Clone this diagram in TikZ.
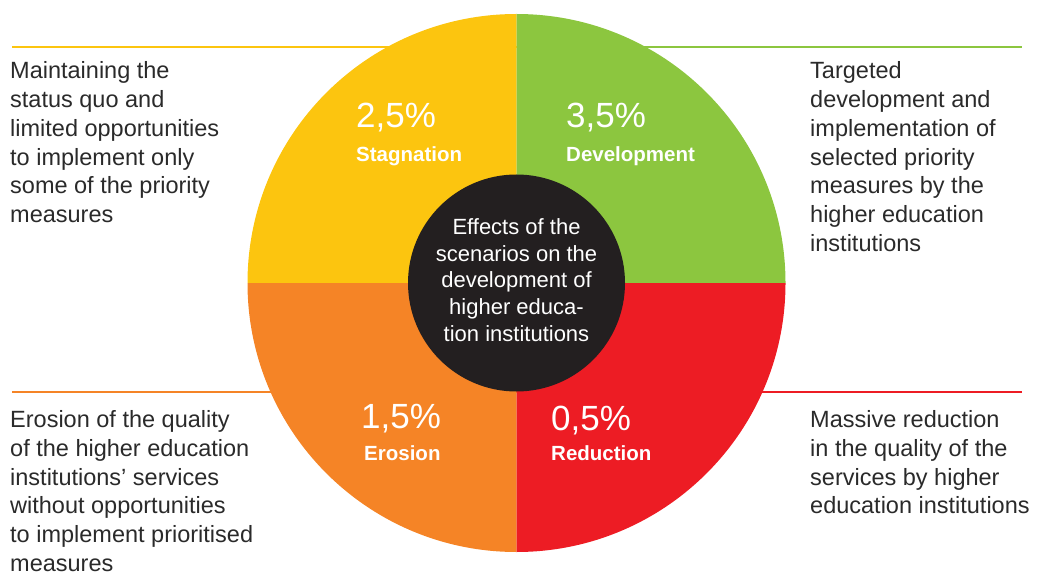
\documentclass[tikz,border=0pt]{standalone}
\usepackage{fontspec}
\setmainfont{Liberation Sans}
\usepackage{tikz}

\definecolor{stagyellow}{HTML}{FCC50F}
\definecolor{devgreen}{HTML}{8CC63F}
\definecolor{erosorange}{HTML}{F58426}
\definecolor{redred}{HTML}{ED1C24}
\definecolor{hubdark}{HTML}{231F20}
\definecolor{textdark}{HTML}{2A2A2A}

\begin{document}
\begin{tikzpicture}[x=1pt,y=1pt]
        \tikzset{rule/.style = {line width=1.8pt},
                 desc/.style = {anchor=base west,inner sep=0pt,align=left,text=textdark,
                                font=\fontsize{23.5}{28.7}\selectfont},
                 share/.style = {anchor=base west,inner sep=0pt,text=white,
                                 font=\fontsize{35}{40}\selectfont},
                 scen/.style = {anchor=base west,inner sep=0pt,text=white,
                                font=\bfseries\fontsize{20.5}{24}\selectfont},
                 hub/.style = {shape=circle,fill=hubdark,minimum size=217pt,inner sep=0pt},
                 hubtext/.style = {inner sep=0pt,align=center,text=white,
                                   font=\fontsize{22}{26.8}\selectfont}}
        \useasboundingbox (0,0) rectangle (1038,571);
        \coordinate (c) at (516.5,288);
        % rules
        \coordinate (ytl) at (12,524);
        \coordinate (gtr) at (1022,524);
        \coordinate (obl) at (12,179.3);
        \coordinate (rbr) at (1022,179.3);
        \draw[rule,stagyellow] (ytl) -- (ytl -| c);
        \draw[rule,devgreen] (gtr -| c) -- (gtr);
        \draw[rule,erosorange] (obl) -- (obl -| c);
        \draw[rule,redred] (rbr -| c) -- (rbr);
        % sectors
        \fill[stagyellow] (c) -- ++(0,269) arc[start angle=90,end angle=180,radius=269] -- cycle;
        \fill[devgreen] (c) -- ++(269,0) arc[start angle=0,end angle=90,radius=269] -- cycle;
        \fill[erosorange] (c) -- ++(-269,0) arc[start angle=180,end angle=270,radius=269] -- cycle;
        \fill[redred] (c) -- ++(0,-269) arc[start angle=270,end angle=360,radius=269] -- cycle;
        \node[hub] (hub) at (c) {};
        \node[hubtext] (effects) at ([yshift=3pt]c) {Effects of the\\scenarios on the\\development of\\higher educa-\\tion institutions};
        % shares
        \node[share] (p25) at (356,443) {2,5\%};
        \node[scen] (stag) at (356,409.3) {Stagnation};
        \node[share] (p35) at (566,443) {3,5\%};
        \node[scen] (dev) at (566,409.3) {Development};
        \node[share] (p15) at (361,142.7) {1,5\%};
        \node[scen] (eros) at (364,111) {Erosion};
        \node[share] (p05) at (551,141) {0,5\%};
        \node[scen] (red) at (551,110.3) {Reduction};
        % descriptions (anchored at the last line)
        \node[desc] (stagtext) at (10,348.5) {Maintaining the\\status quo and\\limited opportunities\\to implement only\\some of the priority\\measures};
        \node[desc] (devtext) at (810,319.8) {Targeted\\development and\\implementation of\\selected priority\\measures by the\\higher education\\institutions};
        \node[desc] (erostext) at (10,-0.2) {Erosion of the quality\\of the higher education\\institutions’ services\\without opportunities\\to implement prioritised\\measures};
        \node[desc] (redtext) at (810,57.2) {Massive reduction\\in the quality of the\\services by higher\\education institutions};
\end{tikzpicture}
\end{document}
